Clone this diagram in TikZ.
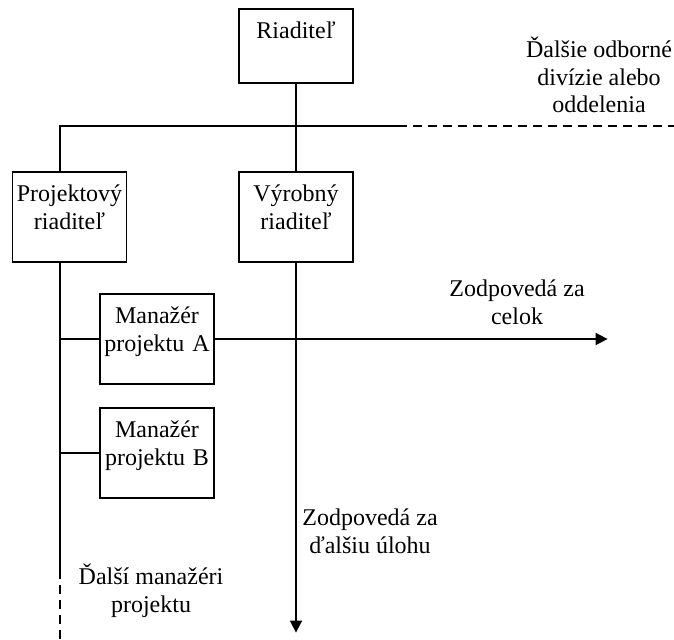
\documentclass[tikz,border=0pt]{standalone}
\usepackage{fontspec}
\setmainfont{Liberation Serif}
\usepackage{tikz}
\usetikzlibrary{arrows.meta,positioning}

\begin{document}
\begin{tikzpicture}[
    node distance=57pt,
    every node/.style={font=\fontsize{12pt}{13.8pt}\selectfont},
    box/.style={rectangle, draw, line width=0.6pt, text width=55pt, align=center, inner xsep=1pt, inner ysep=0pt, text height=15pt, text depth=30pt},
    line/.style={line width=0.6pt},
    dashline/.style={line width=0.6pt, dash pattern=on 4.5pt off 3pt},
    arrow/.style={-{Triangle[length=6pt, width=6pt]}, line width=0.8pt},
    note/.style={align=center}
]
\useasboundingbox (0,0) rectangle (337pt,-320pt);

\node[box, text depth=22pt] (riaditel) at (148pt,-23pt) {Riaditeľ};
\node[box, below of=riaditel, yshift=-28.5pt] (vyrobny) {Výrobný\\riaditeľ};
\node[box, left of=vyrobny, xshift=-56.25pt] (projektovy) {Projektový\\riaditeľ};
\node[box] (manazerA) at (78.5pt,-169.5pt) {Manažér\\projektu A};
\node[box, below of=manazerA] (manazerB) {Manažér\\projektu B};

\node[note] (odbor) at (299.5pt,-37.5pt) {Ďalšie odborné\\divízie alebo\\oddelenia};
\node[note] (celok) at (258.5pt,-151.25pt) {Zodpovedá za\\celok};
\node[note] (uloha) at (185pt,-265.75pt) {Zodpovedá za\\ďalšiu úlohu};
\node[note] (dalsi) at (75.5pt,-295.25pt) {Ďalší manažéri\\projektu};

\coordinate (pleft) at ([xshift=-4.75pt]projektovy.north);
\coordinate (pdown) at ([xshift=-4.75pt]projektovy.south);
\coordinate (busdash) at (199pt,-63pt);
\coordinate (busend) at (337pt,-63pt);
\coordinate (trunkdash) at (pdown |- 0,-285pt);
\coordinate (trunkend) at (pdown |- 0,-320pt);
\coordinate (celokend) at ([xshift=196.5pt]manazerA.east);
\coordinate (ulohaend) at ([yshift=-185pt]vyrobny.south);

\draw[line] (riaditel) -- (vyrobny);
\draw[line] (pleft) |- (busdash);
\draw[dashline] (busdash) -- (busend);
\draw[line] (pdown) -- (trunkdash);
\draw[dashline] (trunkdash) -- (trunkend);
\draw[line] (pdown |- manazerA) -- (manazerA);
\draw[line] (pdown |- manazerB) -- (manazerB);
\draw[arrow] (manazerA) -- (celokend);
\draw[arrow] (vyrobny) -- (ulohaend);
\end{tikzpicture}
\end{document}
